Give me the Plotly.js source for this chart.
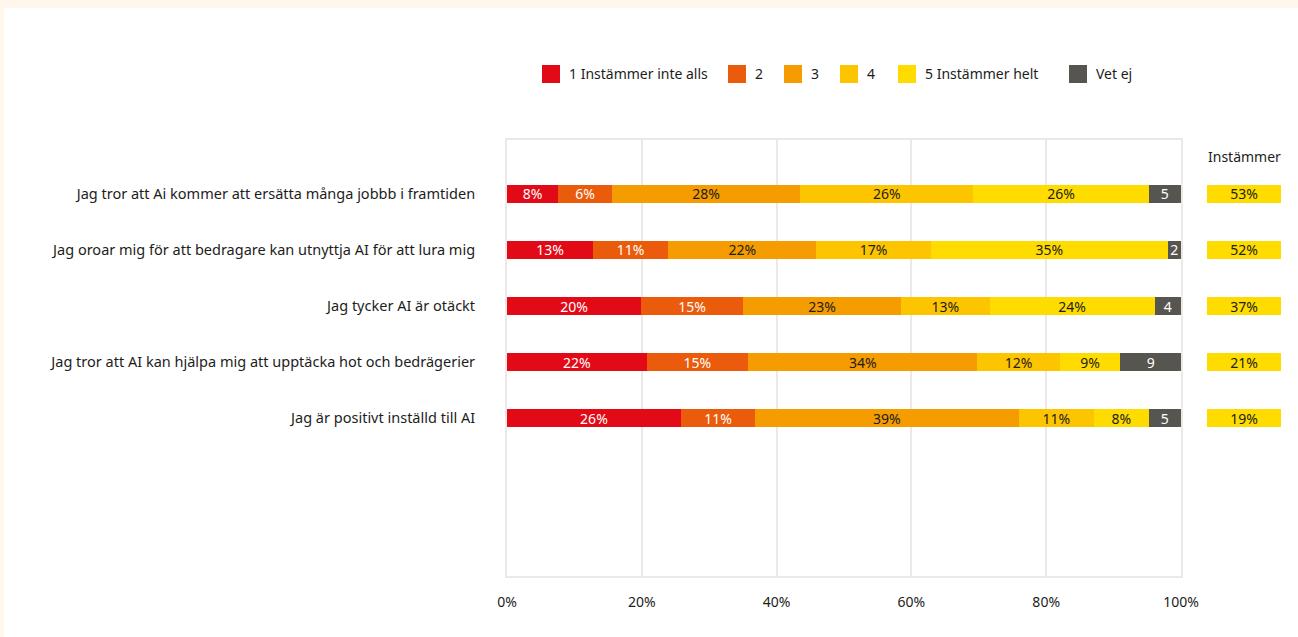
<!DOCTYPE html>
<html>
<head>
<meta charset="utf-8">
<script src="https://cdn.plot.ly/plotly-3.0.1.min.js"></script>
<style>
  html, body { margin: 0; padding: 0; background: #fff6ec; width: 1298px; height: 637px; overflow: hidden; }
  #chart { position: absolute; left: 4px; top: 8px; width: 1294px; height: 629px; background: #ffffff; }
</style>
</head>
<body>
<div id="chart"></div>
<script>
// ---- Data ----
const categories = [
  "Jag tror att Ai kommer att ersätta många jobbb i framtiden",
  "Jag oroar mig för att bedragare kan utnyttja AI för att lura mig",
  "Jag tycker AI är otäckt",
  "Jag tror att AI kan hjälpa mig att upptäcka hot och bedrägerier",
  "Jag är positivt inställd till AI"
];
const seriesNames = ["1 Instämmer inte alls", "2", "3", "4", "5 Instämmer helt", "Vet ej"];

// bar lengths (percent)
const s1 = [7.6, 12.8, 19.9, 20.7, 25.8];
const s2 = [8.0, 11.1, 15.1, 15.1, 11.0];
const s3 = [27.9, 22.0, 23.5, 34.0, 39.1];
const s4 = [25.7, 17.0, 13.1, 12.2, 11.2];
const s5 = [26.0, 35.1, 24.5, 9.0, 8.1];
const s6 = [4.8, 2.0, 3.9, 9.0, 4.8];

// labels as printed in the bars
const l1 = ["8%", "13%", "20%", "22%", "26%"];
const l2 = ["6%", "11%", "15%", "15%", "11%"];
const l3 = ["28%", "22%", "23%", "34%", "39%"];
const l4 = ["26%", "17%", "13%", "12%", "11%"];
const l5 = ["26%", "35%", "24%", "9%", "8%"];
const l6 = ["5", "2", "4", "9", "5"];

const agreeTitle = "Instämmer";
const agreeLabels = ["53%", "52%", "37%", "21%", "19%"];

const xTickVals = [0, 20, 40, 60, 80, 100];
const xTickText = ["0%", "20%", "40%", "60%", "80%", "100%"];

// ---- Styles ----
const colors = ["#e20a17", "#ea5b0c", "#f49c00", "#fdc400", "#ffdc00", "#575550"];
const textColors = ["#ffffff", "#ffffff", "#1d1d1b", "#1d1d1b", "#1d1d1b", "#ffffff"];
const FONT = "Noto Sans, Open Sans, sans-serif";
const INK = "#1d1d1b";
const GRID = "#ebe8e6";

const W = 1294, H = 629;
const M = { l: 503, r: 17, t: 132, b: 61 };
const PW = W - M.l - M.r, PH = H - M.t - M.b;
const px2x = x => (x - M.l) / PW;
const px2y = y => 1 - (y - M.t) / PH;

const yIdx = categories.map((c, i) => i);
const values = [s1, s2, s3, s4, s5, s6];
const labels = [l1, l2, l3, l4, l5, l6];

const traces = values.map((v, k) => ({
  type: "bar",
  orientation: "h",
  name: seriesNames[k],
  x: v,
  y: yIdx,
  width: 0.32,
  text: labels[k],
  textposition: "inside",
  insidetextanchor: "middle",
  textangle: 0,
  constraintext: "none",
  insidetextfont: { family: FONT, size: 14, color: textColors[k] },
  marker: { color: colors[k], line: { width: 0 } },
  hoverinfo: "skip",
  showlegend: false,
  xaxis: "x",
  yaxis: "y"
}));

traces.push({
  type: "bar",
  orientation: "h",
  name: agreeTitle,
  x: yIdx.map(() => 1),
  y: yIdx,
  width: 0.32,
  text: agreeLabels,
  textposition: "inside",
  insidetextanchor: "middle",
  textangle: 0,
  insidetextfont: { family: FONT, size: 14, color: INK },
  marker: { color: colors[4], line: { width: 0 } },
  hoverinfo: "skip",
  showlegend: false,
  xaxis: "x2",
  yaxis: "y"
});

// manual legend (layout positions in px of the chart div)
const legendLeft = [538, 724, 780, 836, 894, 1065];
const legendCy = 66, sq = 18;
const shapes = [], annotations = [];
seriesNames.forEach((n, k) => {
  shapes.push({
    type: "rect", xref: "paper", yref: "paper", layer: "above",
    x0: px2x(legendLeft[k]), x1: px2x(legendLeft[k] + sq),
    y0: px2y(legendCy + sq / 2), y1: px2y(legendCy - sq / 2),
    fillcolor: colors[k], line: { width: 0 }
  });
  annotations.push({
    xref: "paper", yref: "paper", x: px2x(legendLeft[k] + 25), y: px2y(legendCy),
    xanchor: "left", yanchor: "middle", showarrow: false,
    text: n, font: { family: FONT, size: 14, color: INK }
  });
});
annotations.push({
  xref: "x2 domain", yref: "paper", x: 0.5, y: px2y(148),
  xanchor: "center", yanchor: "middle", showarrow: false,
  text: agreeTitle, font: { family: FONT, size: 14, color: INK }
});

const layout = {
  width: W, height: H,
  margin: M,
  paper_bgcolor: "#ffffff",
  plot_bgcolor: "#ffffff",
  barmode: "stack",
  bargap: 0,
  showlegend: false,
  uniformtext: { mode: "show", minsize: 14 },
  font: { family: FONT, size: 14, color: INK },
  xaxis: {
    domain: [0, 674 / PW],
    range: [0, 100],
    tickvals: xTickVals,
    ticktext: xTickText,
    showgrid: true, gridcolor: GRID, gridwidth: 2,
    zeroline: false,
    showline: true, linecolor: GRID, linewidth: 2, mirror: true,
    ticks: "outside", ticklen: 12, tickcolor: "rgba(0,0,0,0)",
    tickfont: { family: FONT, size: 14, color: INK },
    fixedrange: true
  },
  xaxis2: {
    domain: [700 / PW, 1],
    range: [0, 1],
    anchor: "y",
    showgrid: false, zeroline: false, showline: false,
    showticklabels: false, ticks: "",
    fixedrange: true
  },
  yaxis: {
    range: [6.821, -0.964],
    tickvals: yIdx,
    ticktext: categories,
    showgrid: false, zeroline: false,
    showline: true, linecolor: GRID, linewidth: 2, mirror: true,
    ticks: "outside", ticklen: 27, tickcolor: "rgba(0,0,0,0)",
    tickfont: { family: FONT, size: 14.5, color: INK },
    automargin: false,
    fixedrange: true
  },
  shapes: shapes,
  annotations: annotations
};

Plotly.newPlot("chart", traces, layout, { displayModeBar: false, staticPlot: true });
</script>
</body>
</html>
